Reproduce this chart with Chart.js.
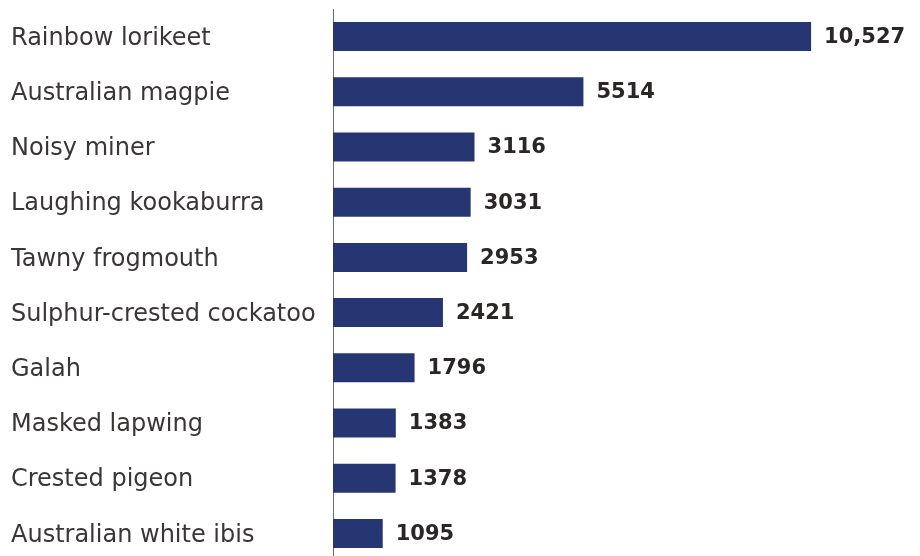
<!DOCTYPE html>
<html>
<head>
<meta charset="utf-8">
<script src="https://cdn.jsdelivr.net/npm/chart.js@4/dist/chart.umd.min.js"></script>
<style>
  html, body { margin: 0; padding: 0; background: #fff; overflow: hidden; }
  #wrap { position: relative; width: 920px; height: 562px; }
</style>
</head>
<body>
<div id="wrap"><canvas id="birds"></canvas></div>
<script>
// Данные графика
const birds = [
  'Rainbow lorikeet',
  'Australian magpie',
  'Noisy miner',
  'Laughing kookaburra',
  'Tawny frogmouth',
  'Sulphur-crested cockatoo',
  'Galah',
  'Masked lapwing',
  'Crested pigeon',
  'Australian white ibis'
];
const counts = [10527, 5514, 3116, 3031, 2953, 2421, 1796, 1383, 1378, 1095];
const countLabels = ['10,527', '5514', '3116', '3031', '2953', '2421', '1796', '1383', '1378', '1095'];

// Подписи значений справа от полос
const valueLabels = {
  id: 'valueLabels',
  afterDatasetsDraw(chart) {
    const ctx = chart.ctx;
    const meta = chart.getDatasetMeta(0);
    ctx.save();
    ctx.font = 'bold 21px "DejaVu Sans"';
    ctx.fillStyle = '#2a2626';
    ctx.textAlign = 'left';
    ctx.textBaseline = 'middle';
    meta.data.forEach((bar, i) => {
      ctx.fillText(countLabels[i], bar.x + 13, bar.y + 1);
    });
    ctx.restore();
  }
};

new Chart(document.getElementById('birds'), {
  type: 'bar',
  data: {
    labels: birds,
    datasets: [{
      data: counts,
      backgroundColor: '#263673',
      borderWidth: 0,
      barPercentage: 0.526,
      categoryPercentage: 1
    }]
  },
  options: {
    indexAxis: 'y',
    responsive: true,
    maintainAspectRatio: false,
    animation: false,
    layout: { padding: { left: 11, right: 42, top: 9, bottom: 1 } },
    plugins: { legend: { display: false }, tooltip: { enabled: false } },
    scales: {
      x: { display: false, min: 0, max: 12000 },
      y: {
        grid: { display: false, drawTicks: false },
        border: { display: true, color: '#6e6e6e', width: 1 },
        ticks: {
          crossAlign: 'far',
          padding: 0,
          labelOffset: 2,
          color: '#3a3636',
          font: { family: '"DejaVu Sans"', size: 24 }
        },
        afterFit(scale) {
          scale.width = 322;
          scale.paddingTop = 0;
          scale.paddingBottom = 0;
        }
      }
    }
  },
  plugins: [valueLabels]
});
</script>
</body>
</html>
